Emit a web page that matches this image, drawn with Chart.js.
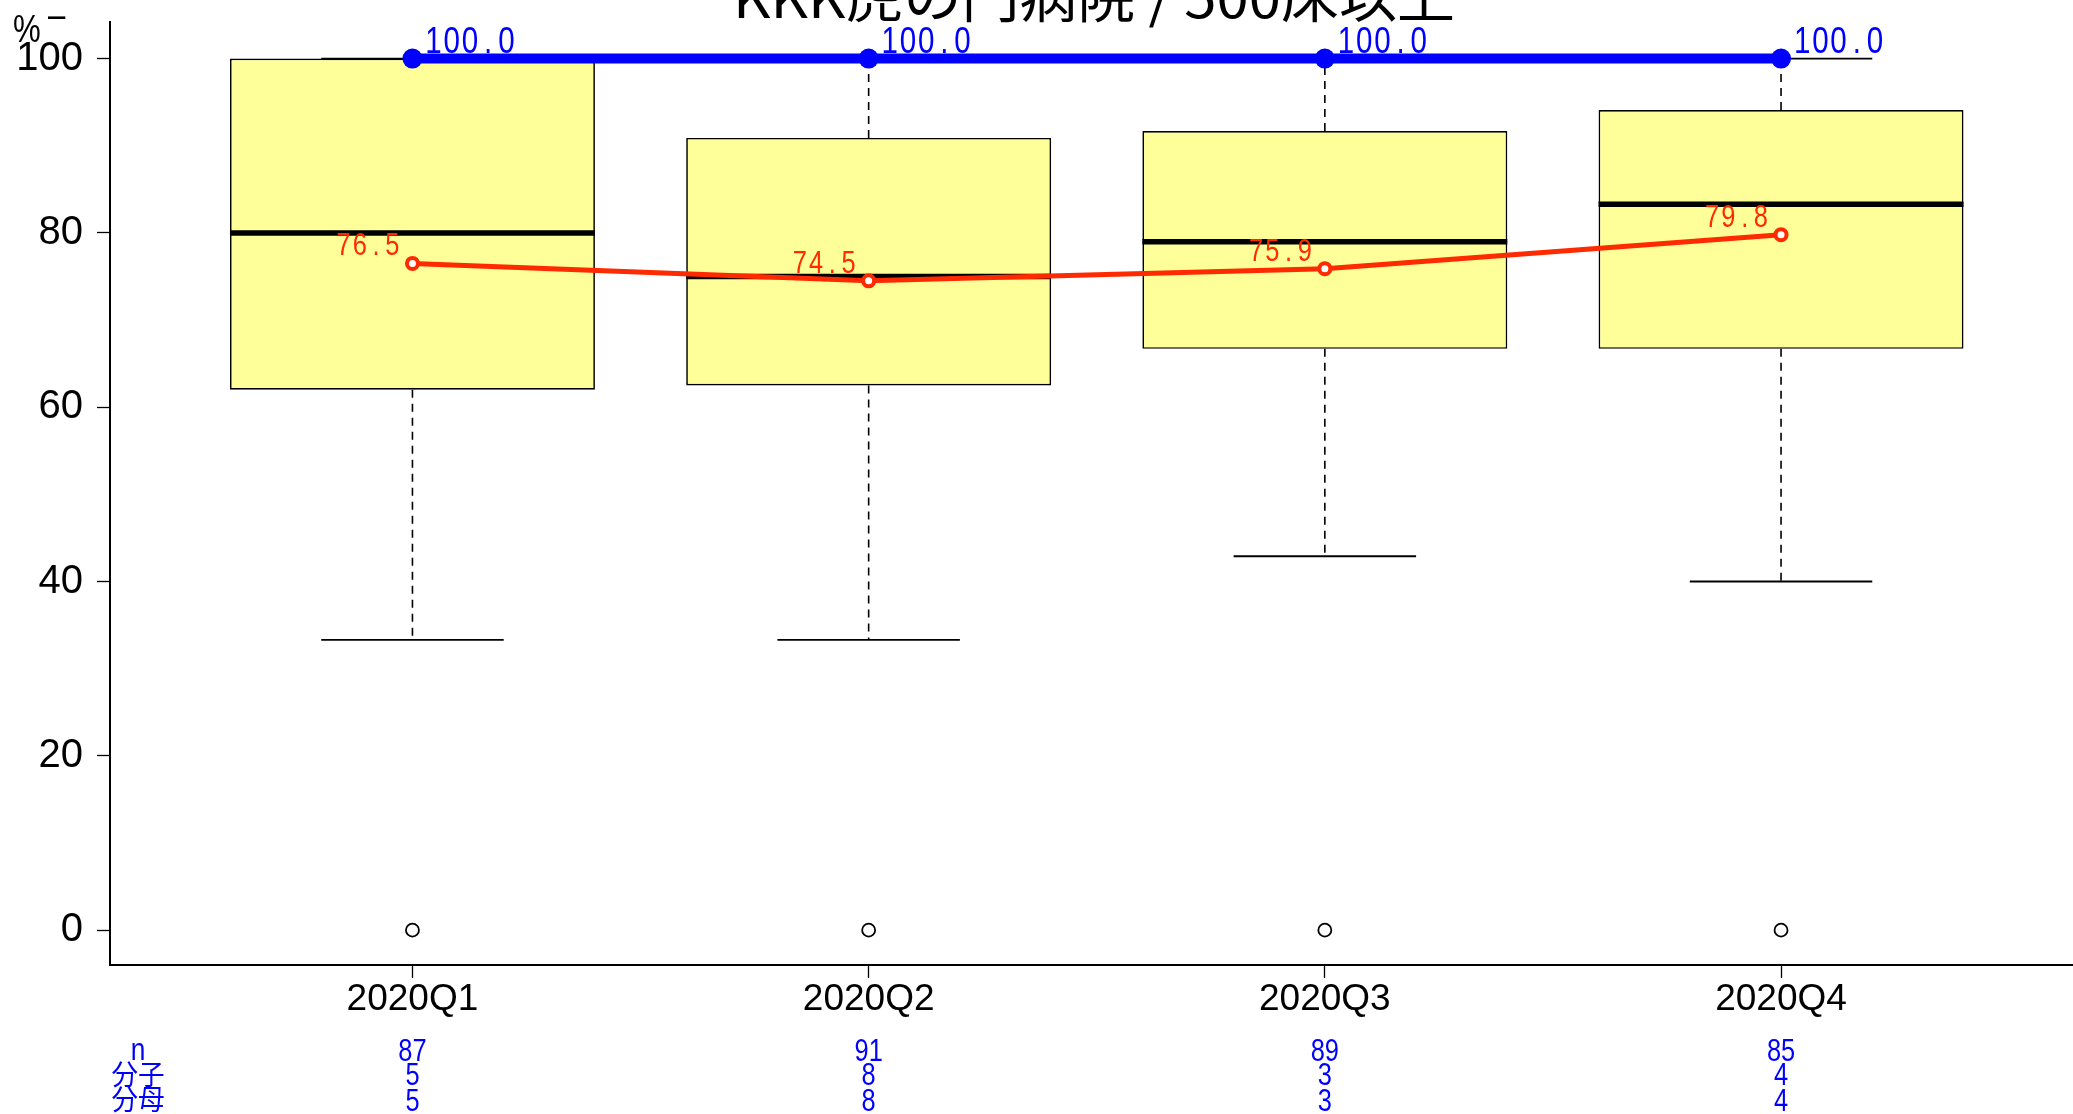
<!DOCTYPE html>
<html>
<head>
<meta charset="utf-8">
<script src="https://cdn.jsdelivr.net/npm/chart.js@4.4.1/dist/chart.umd.min.js"></script>
<style>
  html, body { margin: 0; padding: 0; background: #fff; overflow: hidden; }
  #wrap { width: 2073px; height: 1114px; position: relative; }
  #chartCanvas { display: block; }
</style>
</head>
<body>
<div id="wrap"><canvas id="chartCanvas"></canvas></div>
<script>
// Datos
const categories = ['2020Q1', '2020Q2', '2020Q3', '2020Q4'];
const boxMin = [33.3, 33.3, 42.9, 40.0];
const boxQ1 = [62.0, 62.5, 66.7, 66.7];
const boxMedian = [80.0, 75.0, 79.0, 83.3];
const boxQ3 = [100.0, 90.9, 91.7, 94.1];
const boxMax = [100.0, 100.0, 100.0, 100.0];
const outlierValues = [0, 0, 0, 0];
const meanValues = [76.5, 74.5, 75.9, 79.8];
const ownValues = [100.0, 100.0, 100.0, 100.0];
const nCounts = [87, 91, 89, 85];
const numerators = [5, 8, 3, 4];
const denominators = [5, 8, 3, 4];
const yTicks = [0, 20, 40, 60, 80, 100];
const titleText = 'KKK虎の門病院 / 500床以上';

const SANS = "'Liberation Sans', Arial, sans-serif";
const CJK = "'Noto Sans CJK JP', 'Noto Sans CJK SC', sans-serif";
const NARROW_X = 0.82; // compresión horizontal del texto (fuente estrecha)

// Segmentos auxiliares construidos a partir de los arrays
function segments(fn) {
  const out = [];
  categories.forEach((c, i) => {
    fn(i).forEach(seg => {
      out.push(seg[0], seg[1], { x: seg[1].x, y: null });
    });
  });
  return out;
}
const whiskerData = segments(i => [
  [{ x: i + 1, y: boxQ3[i] }, { x: i + 1, y: boxMax[i] }],
  [{ x: i + 1, y: boxQ1[i] }, { x: i + 1, y: boxMin[i] }]
]);
const capData = segments(i => [
  [{ x: i + 0.8, y: boxMax[i] }, { x: i + 1.2, y: boxMax[i] }],
  [{ x: i + 0.8, y: boxMin[i] }, { x: i + 1.2, y: boxMin[i] }]
]);
const medianData = segments(i => [
  [{ x: i + 0.6, y: boxMedian[i] }, { x: i + 1.4, y: boxMedian[i] }]
]);

// Texto comprimido horizontalmente
function drawNarrow(ctx, text, x, y, align, sx) {
  ctx.save();
  ctx.translate(x, y);
  ctx.scale(sx || NARROW_X, 1);
  ctx.textAlign = align;
  ctx.fillText(text, 0, 0);
  ctx.restore();
}

// Texto con celdas de ancho fijo (aspecto monoespaciado)
function drawCells(ctx, text, x, y, cell, align) {
  const total = cell * text.length;
  const start = align === 'right' ? x - total : x;
  for (let k = 0; k < text.length; k++) {
    drawNarrow(ctx, text[k], start + cell * (k + 0.5), y, 'center');
  }
}

const extrasPlugin = {
  id: 'extras',
  afterDatasetsDraw(chart) {
    const ctx = chart.ctx;
    ctx.save();
    ctx.textBaseline = 'alphabetic';
    // etiquetas azules
    const blue = chart.getDatasetMeta(0).data;
    ctx.fillStyle = '#0000FF';
    ctx.font = '36px ' + SANS;
    blue.forEach((p, i) => drawCells(ctx, ownValues[i].toFixed(1), p.x + 12, p.y - 6, 18.2, 'left'));
    // etiquetas rojas
    const red = chart.getDatasetMeta(1).data;
    ctx.fillStyle = '#FF2A00';
    ctx.font = '31px ' + SANS;
    red.forEach((p, i) => drawCells(ctx, meanValues[i].toFixed(1), p.x - 12, p.y - 8, 16.25, 'right'));
    ctx.restore();
  },
  afterDraw(chart) {
    const ctx = chart.ctx;
    const xs = chart.scales.x;
    ctx.save();
    ctx.textBaseline = 'alphabetic';
    // título (recortado arriba como en la referencia)
    ctx.fillStyle = '#000';
    ctx.font = '54px ' + CJK;
    const w = ctx.measureText(titleText).width;
    drawNarrow(ctx, titleText, 1094, 18, 'center', 722 / w);
    // unidad del eje y
    ctx.font = '38px ' + SANS;
    drawNarrow(ctx, '%', 13, 42, 'left');
    drawNarrow(ctx, '–', 48, 28, 'left');
    // tabla inferior
    ctx.fillStyle = '#0000FF';
    ctx.font = '32px ' + SANS;
    drawNarrow(ctx, 'n', 138, 1060, 'center');
    ctx.font = '28px ' + CJK;
    drawNarrow(ctx, '分子', 138, 1085, 'center', 0.95);
    drawNarrow(ctx, '分母', 138, 1110, 'center', 0.95);
    ctx.font = '31px ' + SANS;
    categories.forEach((c, i) => {
      const x = xs.getPixelForValue(i + 1);
      drawNarrow(ctx, String(nCounts[i]), x, 1061, 'center');
      drawNarrow(ctx, String(numerators[i]), x, 1085, 'center');
      drawNarrow(ctx, String(denominators[i]), x, 1111, 'center');
    });
    ctx.restore();
  }
};

const ctx = document.getElementById('chartCanvas').getContext('2d');
new Chart(ctx, {
  type: 'bar',
  data: {
    datasets: [
      {
        type: 'line',
        data: ownValues.map((v, i) => ({ x: i + 1, y: v })),
        borderColor: '#0000FF',
        backgroundColor: '#0000FF',
        borderWidth: 10,
        pointRadius: 10,
        pointBorderWidth: 0,
        order: 0
      },
      {
        type: 'line',
        data: meanValues.map((v, i) => ({ x: i + 1, y: v })),
        borderColor: '#FF2A00',
        backgroundColor: '#FFFFFF',
        borderWidth: 5,
        pointRadius: 5.5,
        pointBorderWidth: 4,
        pointBorderColor: '#FF2A00',
        order: 1
      },
      {
        type: 'line',
        data: outlierValues.map((v, i) => ({ x: i + 1, y: v })),
        showLine: false,
        borderColor: '#000',
        backgroundColor: 'rgba(0,0,0,0)',
        pointRadius: 6.5,
        pointBorderWidth: 1.8,
        order: 2
      },
      {
        type: 'line',
        data: medianData,
        borderColor: '#000',
        borderWidth: 5.5,
        pointRadius: 0,
        spanGaps: false,
        order: 3
      },
      {
        type: 'line',
        data: capData,
        borderColor: '#000',
        borderWidth: 1.8,
        pointRadius: 0,
        spanGaps: false,
        order: 4
      },
      {
        type: 'line',
        data: whiskerData,
        borderColor: '#000',
        borderWidth: 1.6,
        borderDash: [8, 6],
        pointRadius: 0,
        spanGaps: false,
        order: 6
      },
      {
        type: 'bar',
        data: boxQ1.map((v, i) => ({ x: i + 1, y: [v, boxQ3[i]] })),
        backgroundColor: '#FFFF99',
        borderColor: '#000',
        borderWidth: 1.7,
        borderSkipped: false,
        categoryPercentage: 1,
        barPercentage: 0.8,
        order: 5
      }
    ]
  },
  options: {
    responsive: true,
    maintainAspectRatio: false,
    animation: false,
    layout: { autoPadding: false, padding: { top: 22, left: 0, right: 0, bottom: 0 } },
    plugins: {
      legend: { display: false },
      tooltip: { enabled: false },
      title: { display: false }
    },
    scales: {
      x: {
        type: 'linear',
        min: 0.337,
        max: 4.64,
        offset: false,
        afterBuildTicks: (scale) => {
          scale.ticks = categories.map((c, i) => ({ value: i + 1 }));
        },
        afterFit: (scale) => {
          scale.height = 149;
          scale.paddingLeft = 0;
          scale.paddingRight = 0;
        },
        grid: {
          offset: false,
          drawOnChartArea: false,
          drawTicks: true,
          tickLength: 13,
          tickColor: '#000',
          tickWidth: 1.3
        },
        border: { display: true, color: '#000', width: 2 },
        ticks: {
          color: '#000',
          font: { family: SANS, size: 37, lineHeight: 1 },
          padding: 3,
          maxRotation: 0,
          autoSkip: false,
          callback: (v) => categories[Math.round(v) - 1] || ''
        }
      },
      y: {
        min: -4,
        max: 104.2,
        afterBuildTicks: (scale) => {
          scale.ticks = yTicks.map(v => ({ value: v }));
        },
        afterFit: (scale) => {
          scale.width = 110;
          scale.paddingTop = 0;
          scale.paddingBottom = 0;
        },
        grid: {
          drawOnChartArea: false,
          drawTicks: true,
          tickLength: 13,
          tickColor: '#000',
          tickWidth: 1.3
        },
        border: { display: true, color: '#000', width: 2 },
        ticks: {
          color: '#000',
          font: { family: SANS, size: 40 },
          padding: 14,
          includeBounds: false
        }
      }
    }
  },
  plugins: [extrasPlugin]
});
</script>
</body>
</html>
